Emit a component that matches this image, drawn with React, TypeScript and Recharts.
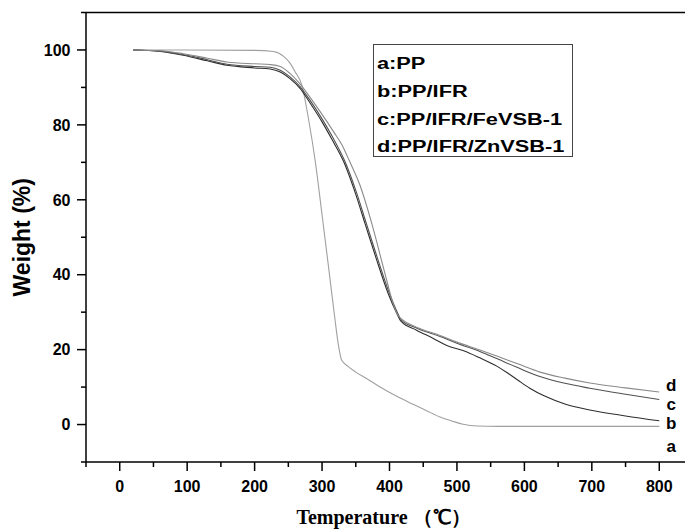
import React from "react";
import { LineChart, Line, XAxis, YAxis, ReferenceLine, ReferenceDot } from "recharts";

// temperatures (°C) and residual weight (%)
const ppTemp = [20, 100, 200, 228, 243, 252, 260, 270, 280, 290, 300, 310, 319, 324, 329, 338, 350, 366, 386, 410, 435, 455, 475, 495, 509, 530, 560, 600, 700, 800];
const ppWeight = [100, 100, 99.9, 99.6, 98.3, 96.6, 94.2, 90.6, 81.5, 70.2, 56, 41.5, 28.3, 21.5, 17.2, 15.6, 14.0, 12.3, 10.0, 7.6, 5.4, 3.7, 2.0, 0.8, 0.1, -0.4, -0.5, -0.5, -0.5, -0.5];

const ifrTemp = [20, 60, 94, 130, 159, 200, 223, 238, 252, 267, 282, 300, 315, 332, 348, 364, 380, 398, 410, 417, 440, 465, 485, 510, 534, 559, 574, 590, 608, 630, 660, 697, 750, 800];
const ifrWeight = [100, 99.6, 98.6, 97.1, 95.9, 95.2, 94.9, 94.1, 92.4, 89.8, 85.9, 80.8, 76, 70.2, 62.5, 53.5, 44.5, 35, 30, 27.6, 25.2, 23.0, 21.1, 19.7, 17.8, 15.6, 13.9, 11.9, 9.7, 7.6, 5.5, 3.9, 2.3, 1.0];

const feTemp = [20, 60, 94, 130, 159, 200, 223, 238, 252, 267, 282, 300, 316, 334, 350, 366, 382, 400, 411, 418, 440, 475, 500, 534, 559, 590, 623, 660, 697, 750, 800];
const feWeight = [100, 99.7, 98.8, 97.4, 96.2, 95.6, 95.4, 94.6, 92.9, 90.3, 86.6, 81.6, 76.6, 70.2, 62.5, 53.5, 44.5, 35, 30.2, 27.8, 25.8, 23.5, 21.7, 19.5, 17.6, 15.2, 12.8, 11.0, 9.7, 8.1, 6.7];

const znTemp = [20, 60, 94, 130, 159, 200, 223, 238, 252, 267, 282, 300, 317, 330, 341, 356, 374, 393, 405, 412, 419, 440, 475, 500, 534, 559, 590, 623, 660, 697, 750, 800];
const znWeight = [100, 99.8, 99.0, 97.8, 96.8, 96.3, 96.1, 95.6, 93.8, 91.0, 87.4, 82.8, 78.2, 74.5, 70.2, 64, 53.5, 40.5, 32.5, 29.3, 28.0, 26.0, 23.8, 22.0, 19.9, 18.3, 16.2, 14.0, 12.4, 11.1, 9.8, 8.7];

const legendLabels = ["a:PP", "b:PP/IFR", "c:PP/IFR/FeVSB-1", "d:PP/IFR/ZnVSB-1"];
const curveLetters = ["a", "b", "c", "d"];

const xTicks = [-50, 0, 50, 100, 150, 200, 250, 300, 350, 400, 450, 500, 550, 600, 650, 700, 750, 800, 850];
const yTicks = [-10, 0, 10, 20, 30, 40, 50, 60, 70, 80, 90, 100, 110];

const toPoints = (t: number[], w: number[]) => t.map((v, i) => ({ t: v, w: w[i] }));

const series = [
  { key: "a", data: toPoints(ppTemp, ppWeight), color: "#a0a0a0", dy: 19.5 },
  { key: "b", data: toPoints(ifrTemp, ifrWeight), color: "#2e2e2e", dy: 2.5 },
  { key: "c", data: toPoints(feTemp, feWeight), color: "#505050", dy: 4 },
  { key: "d", data: toPoints(znTemp, znWeight), color: "#8a8a8a", dy: -7 },
];

const SANS = "'Liberation Sans', Arial, sans-serif";
const SERIF = "'Liberation Serif', 'Times New Roman', serif";

function XTick(props: any) {
  const { x, y, payload } = props;
  const major = payload.value % 100 === 0;
  return (
    <g>
      <line x1={x} y1={y} x2={x} y2={y + (major ? 9 : 5)} stroke="#000" strokeWidth={1.5} />
      {major && (
        <text x={x} y={y + 30} textAnchor="middle" fontFamily={SANS} fontWeight="bold" fontSize={16} fill="#000">
          {payload.value}
        </text>
      )}
    </g>
  );
}

function YTick(props: any) {
  const { x, y, payload } = props;
  const major = payload.value % 20 === 0;
  return (
    <g>
      <line x1={x} y1={y} x2={x - (major ? 9 : 5)} y2={y} stroke="#000" strokeWidth={1.5} />
      {major && (
        <text x={x - 15.5} y={y} dy="0.36em" textAnchor="end" fontFamily={SANS} fontWeight="bold" fontSize={16} fill="#000">
          {payload.value}
        </text>
      )}
    </g>
  );
}

export default function App() {
  return (
    <div style={{ position: "absolute", left: 0, top: 0, width: 685, height: 529, overflow: "hidden", background: "#fff" }}>
      <LineChart width={700} height={529} margin={{ top: 12.5, right: 7, bottom: 0, left: 0 }}>
        <XAxis
          type="number"
          dataKey="t"
          domain={[-50, 850]}
          ticks={xTicks}
          interval={0}
          allowDataOverflow
          height={67}
          tickSize={0}
          tickMargin={0}
          tick={<XTick />}
          axisLine={{ stroke: "#000", strokeWidth: 1.5 }}
          label={(p: any) => {
            const vb = p.viewBox;
            return (
              <text x={vb.x + vb.width / 2 - 6} y={vb.y + 61.5} textAnchor="middle" fontFamily={SERIF} fontWeight="bold" fontSize={20} fill="#000">
                Temperature （℃）
              </text>
            );
          }}
        />
        <YAxis
          type="number"
          domain={[-10, 110]}
          ticks={yTicks}
          interval={0}
          allowDataOverflow
          width={86}
          tickSize={0}
          tickMargin={0}
          tick={<YTick />}
          axisLine={{ stroke: "#000", strokeWidth: 1.5 }}
          label={(p: any) => {
            const vb = p.viewBox;
            const cy = vb.y + vb.height / 2;
            return (
              <text x={22} y={cy} transform={`rotate(-90 22 ${cy})`} dy="0.36em" textAnchor="middle" fontFamily={SANS} fontWeight="bold" fontSize={23} fill="#000">
                Weight (%)
              </text>
            );
          }}
        />
        <ReferenceLine y={110} stroke="#000" strokeWidth={1.5} />
        <ReferenceLine x={850} stroke="#000" strokeWidth={1.5} />
        {series.map((s) => (
          <Line
            key={s.key}
            data={s.data}
            dataKey="w"
            type="monotone"
            stroke={s.color}
            strokeWidth={1.1}
            dot={false}
            activeDot={false}
            isAnimationActive={false}
          />
        ))}
        {series.map((s, i) => {
          const last = s.data[s.data.length - 1];
          return (
            <ReferenceDot
              key={"lbl-" + s.key}
              x={last.t}
              y={last.w}
              r={0}
              fill="none"
              stroke="none"
              label={(p: any) => {
                const vb = p.viewBox;
                return (
                  <text x={vb.x + 12} y={vb.y + s.dy} dy="0.36em" textAnchor="middle" fontFamily={SANS} fontWeight="bold" fontSize={17} fill="#000">
                    {curveLetters[i]}
                  </text>
                );
              }}
            />
          );
        })}
      </LineChart>
      <div
        style={{
          position: "absolute",
          left: 373,
          top: 44,
          width: 200,
          height: 113,
          boxSizing: "border-box",
          border: "1px solid #444",
          paddingLeft: 3,
          paddingTop: 5,
          fontFamily: SANS,
          fontWeight: "bold",
          fontSize: 16,
          lineHeight: "27.8px",
          color: "#000",
        }}
      >
        {legendLabels.map((l) => (
          <div key={l} style={{ transform: "scaleX(1.36)", transformOrigin: "left center", whiteSpace: "nowrap" }}>
            {l}
          </div>
        ))}
      </div>
    </div>
  );
}
